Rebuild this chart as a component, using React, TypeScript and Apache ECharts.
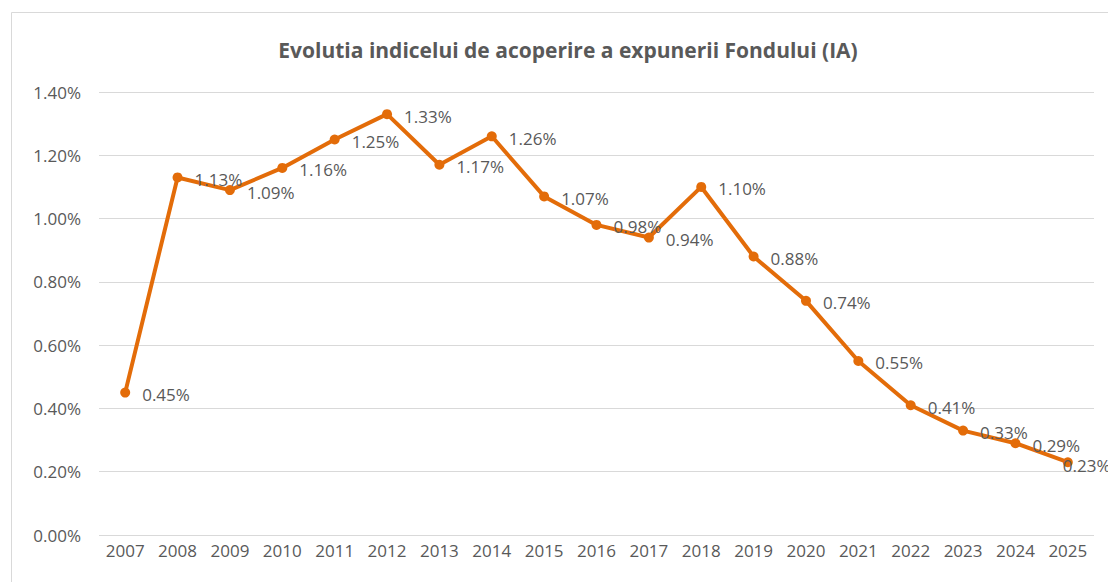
import React, { useEffect, useRef } from "react";
import * as echarts from "echarts";

const years = ["2007","2008","2009","2010","2011","2012","2013","2014","2015","2016","2017","2018","2019","2020","2021","2022","2023","2024","2025"];
const values = [0.45,1.13,1.09,1.16,1.25,1.33,1.17,1.26,1.07,0.98,0.94,1.10,0.88,0.74,0.55,0.41,0.33,0.29,0.23];
const title = "Evolutia indicelui de acoperire a expunerii Fondului (IA)";

export default function App() {
  const ref = useRef<HTMLDivElement>(null);
  useEffect(() => {
    const chart = echarts.init(ref.current!, null, { renderer: "svg" });
    const font = "'Open Sans', 'Noto Sans', sans-serif";
    const last = values.length - 1;
    const seriesData = values.map((v, i) =>
      i === last ? { value: v, label: { offset: [-22, 3] } } : v
    );
    chart.setOption({
      animation: false,
      backgroundColor: "#ffffff",
      title: {
        text: title,
        left: 563,
        textAlign: "center",
        top: 34,
        textStyle: { fontFamily: font, fontSize: 21, fontWeight: "bold", color: "#595959" },
      },
      graphic: [
        {
          type: "rect",
          shape: { x: 11.5, y: 12.5, width: 1200, height: 700 },
          style: { fill: "none", stroke: "#d9d9d9", lineWidth: 1 },
          silent: true,
        },
      ],
      grid: { left: 99, right: 14, top: 92, bottom: 47 },
      xAxis: {
        type: "category",
        data: years,
        boundaryGap: true,
        axisLine: { show: false },
        axisTick: { show: false },
        axisLabel: { color: "#595959", fontFamily: font, fontSize: 17, margin: 7 },
      },
      yAxis: {
        type: "value",
        min: 0,
        max: 1.4,
        interval: 0.2,
        axisLine: { show: false },
        axisTick: { show: false },
        axisLabel: {
          color: "#595959",
          fontFamily: font,
          fontSize: 17,
          margin: 18,
          formatter: (v: number) => v.toFixed(2) + "%",
        },
        splitLine: { lineStyle: { color: "#d9d9d9", width: 1 } },
      },
      series: [
        {
          type: "line",
          data: seriesData,
          symbol: "circle",
          symbolSize: 10,
          lineStyle: { color: "#E36C09", width: 4 },
          itemStyle: { color: "#E36C09" },
          label: {
            show: true,
            position: "right",
            distance: 12,
            offset: [0, 2],
            color: "#595959",
            fontFamily: font,
            fontSize: 17,
            formatter: (p: any) => Number(p.value).toFixed(2) + "%",
          },
        },
      ],
    });
    return () => chart.dispose();
  }, []);
  return <div ref={ref} style={{ position: "fixed", left: 0, top: 0, width: 1108, height: 582 }} />;
}
